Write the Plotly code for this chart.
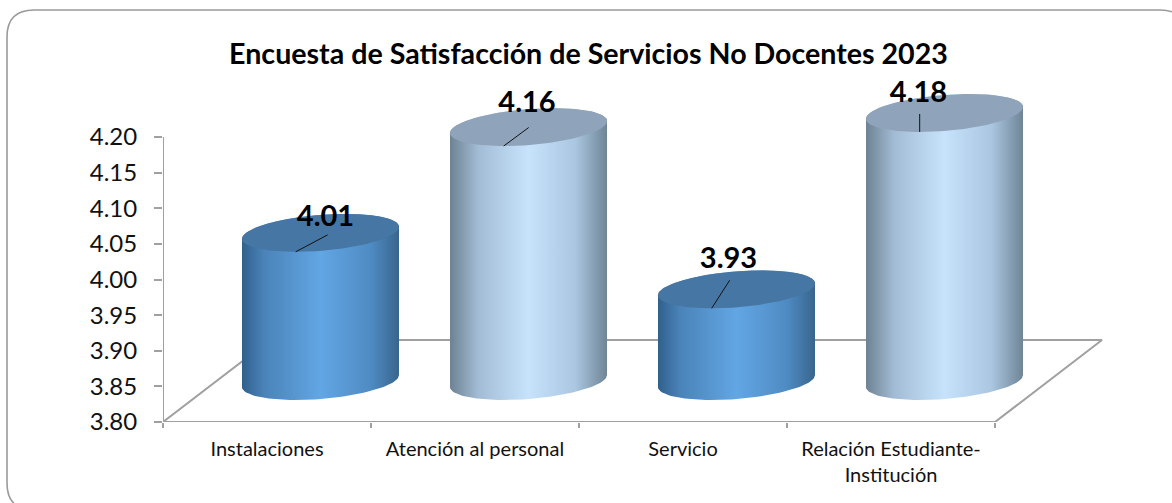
import numpy as np
import plotly.graph_objects as go

categories = ["Instalaciones", "Atención al personal", "Servicio", "Relación Estudiante-<br>Institución"]
values = [4.01, 4.16, 3.93, 4.18]
value_text = ["4.01", "4.16", "3.93", "4.18"]
y_ticks = [3.80, 3.85, 3.90, 3.95, 4.00, 4.05, 4.10, 4.15, 4.20]
y_tick_text = ["3.80", "3.85", "3.90", "3.95", "4.00", "4.05", "4.10", "4.15", "4.20"]
title_text = "Encuesta de Satisfacción de Servicios No Docentes 2023"

W, H = 1172, 503
ML, MT, MR, MB = 163, 85, 52, 81
PX_X = 208.0
PX_Y = 712.5
Y0 = 3.80
X_MAX = (W - ML - MR) / PX_X
Y_MAX = Y0 + (H - MT - MB) / PX_Y
DEPTH_X, DEPTH_Y = 107 / PX_X, 82 / PX_Y
A, B, S = 78.5 / PX_X, 18 / PX_Y, 6 / PX_Y
HEIGHT_SCALE = 0.99

BLUE = dict(
    side=[[0, "#30608c"], [0.14, "#4a83b8"], [0.5, "#62a6e4"], [0.82, "#4f8bc3"], [1, "#38658f"]],
    top="#4676a3",
)
LIGHT = dict(
    side=[[0, "#6d8293"], [0.18, "#a3bcd5"], [0.5, "#c7e3fc"], [0.8, "#aac6e0"], [1, "#6f8596"]],
    top="#8fa4ba",
)
palette = [BLUE, LIGHT, BLUE, LIGHT]
# leader end as pixel offset from the ellipse's lowest point
leader_off = [(32, -17), (25, -18.5), (18, -28), (0, -18)]
# label centre as pixel offset from the top centre of each cylinder
label_off = [(5, -14), (-1.5, -22), (-8, -29), (-26, -18)]
AXIS = "#a0a0a0"
FONT = "Lato"


def ring(cx, cy, t):
    return cx + A * np.cos(t), cy - B * np.sin(t) + S * np.cos(t)


fig = go.Figure()


def line(xs, ys, color=AXIS, width=2):
    fig.add_trace(go.Scatter(x=xs, y=ys, mode="lines", line=dict(color=color, width=width),
                             cliponaxis=False, hoverinfo="skip", showlegend=False))


# floor and axis lines
fd_x, fd_y = 4 + DEPTH_X, Y0 + DEPTH_Y
line([0, 4, fd_x, DEPTH_X, 0], [Y0, Y0, fd_y, fd_y, Y0])
line([0, 0], [Y0, y_ticks[-1]])

for i, v in enumerate(values):
    cx = i + 0.5 + DEPTH_X / 2
    base = Y0 + DEPTH_Y / 2
    top = base + (v - Y0) * HEIGHT_SCALE
    lower = np.linspace(0, np.pi, 60)
    upper = np.linspace(np.pi, 2 * np.pi, 60)
    bx, by = ring(cx, base, lower)
    tx, ty = ring(cx, top, upper)
    fig.add_trace(go.Scatter(
        x=np.r_[bx, tx, bx[0]], y=np.r_[by, ty, by[0]], mode="lines", line=dict(width=0),
        fill="toself", fillgradient=dict(type="horizontal", colorscale=palette[i]["side"]),
        hoverinfo="skip", showlegend=False, cliponaxis=False))
    all_t = np.linspace(0, 2 * np.pi, 120)
    ex, ey = ring(cx, top, all_t)
    fig.add_trace(go.Scatter(
        x=ex, y=ey, mode="lines", line=dict(width=0), fill="toself",
        fillcolor=palette[i]["top"], hoverinfo="skip", showlegend=False, cliponaxis=False))

# leaders and value labels
for i, v in enumerate(values):
    cx = i + 0.5 + DEPTH_X / 2
    top = Y0 + DEPTH_Y / 2 + (v - Y0) * HEIGHT_SCALE
    low_x = cx - A * S / np.hypot(B, S)
    low_y = top - np.hypot(B, S)
    line([low_x, low_x + leader_off[i][0] / PX_X], [low_y, low_y - leader_off[i][1] / PX_Y],
         color="#111111", width=1)
    fig.add_trace(go.Scatter(
        x=[cx + label_off[i][0] / PX_X], y=[top - label_off[i][1] / PX_Y], mode="text",
        text=[value_text[i]], textposition="middle center",
        textfont=dict(family=FONT, size=29, color="#000000", weight=700),
        cliponaxis=False, hoverinfo="skip", showlegend=False))

# rounded card; its right and bottom edges run past the picture
x0, x1, y0, y1, r = 7, 1187, 10, 510, 27
plot_w, plot_h = W - ML - MR, H - MT - MB


def px(x):
    return (x - ML) / plot_w


def py(y):
    return 1 - (y - MT) / plot_h


card = (f"M {px(x0)} {py(y0 + r)} Q {px(x0)} {py(y0)} {px(x0 + r)} {py(y0)} "
        f"L {px(x1 - r)} {py(y0)} Q {px(x1)} {py(y0)} {px(x1)} {py(y0 + r)} "
        f"L {px(x1)} {py(y1 - r)} Q {px(x1)} {py(y1)} {px(x1 - r)} {py(y1)} "
        f"L {px(x0 + r)} {py(y1)} Q {px(x0)} {py(y1)} {px(x0)} {py(y1 - r)} Z")

fig.update_layout(
    width=W, height=H, autosize=False,
    margin=dict(l=ML, r=MR, t=MT, b=MB, autoexpand=False),
    paper_bgcolor="white", plot_bgcolor="rgba(0,0,0,0)", showlegend=False,
    font=dict(family=FONT, color="#111111"),
    title=dict(text=title_text, x=px(588.5), xanchor="center", xref="paper", y=1 - 54 / H, yanchor="middle",
               yref="container", font=dict(family=FONT, size=28.6, color="#000000", weight=700)),
    shapes=[dict(type="path", path=card, xref="paper", yref="paper", line=dict(color="#9a9a9a", width=1.6),
                 fillcolor="rgba(0,0,0,0)", layer="below")],
    xaxis=dict(range=[0, X_MAX], showgrid=False, zeroline=False, showline=False, tickmode="array",
               tickvals=[0.5, 1.5, 2.5, 3.5], ticktext=categories, ticks="", ticklen=0, ticklabelstandoff=13,
               tickfont=dict(size=20, family=FONT, color="#111111"),
               minor=dict(tickmode="array", tickvals=[0, 1, 2, 3, 4], ticks="outside", ticklen=5,
                          tickcolor=AXIS, tickwidth=1.5, showgrid=False)),
    yaxis=dict(range=[Y0, Y_MAX], showgrid=False, zeroline=False, showline=False, tickmode="array",
               tickvals=y_ticks, ticktext=y_tick_text, ticks="outside", ticklen=8, tickcolor=AXIS, tickwidth=1.5,
               ticklabelstandoff=12,
               tickfont=dict(size=24, family=FONT, color="#111111")),
)
fig.write_html("out.html", config=dict(displayModeBar=False),
               post_script="document.body.style.margin='0';document.documentElement.style.overflow='hidden';")
